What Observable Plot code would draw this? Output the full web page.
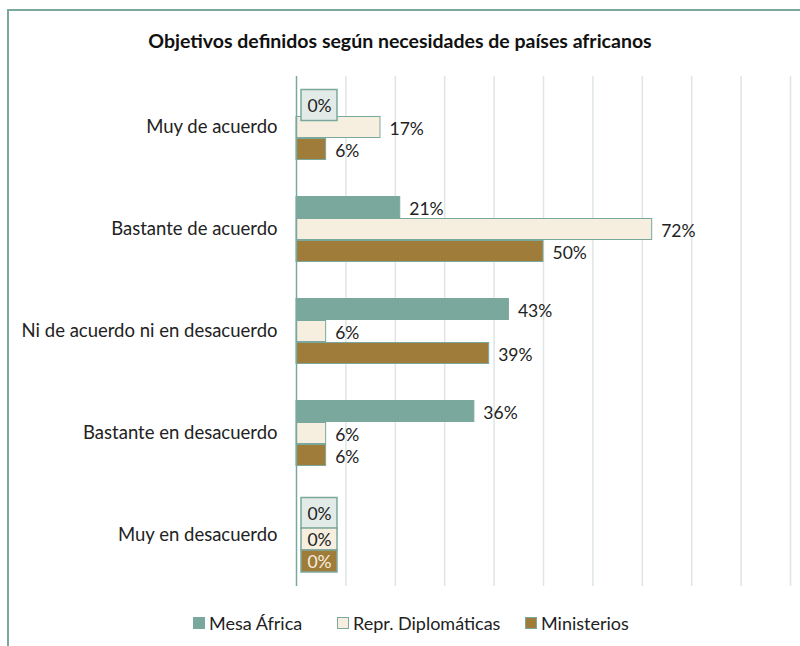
<!DOCTYPE html>
<html>
<head>
<meta charset="utf-8">
<script src="https://cdn.jsdelivr.net/npm/d3@7"></script>
<script src="https://cdn.jsdelivr.net/npm/@observablehq/plot@0.6"></script>
<style>
  html, body { margin: 0; padding: 0; background: #fff; overflow: hidden; }
  body { width: 800px; height: 646px; position: relative; font-family: Lato, "Open Sans", sans-serif; color: #222; }
  #frame { position: absolute; left: 7px; top: 9px; width: 1000px; height: 1000px; border: 2px solid #7ba89c; box-sizing: border-box; }
  #title { position: absolute; left: 0; top: 29px; width: 800px; text-align: center; font-weight: bold; font-size: 19.5px; line-height: 24px; color: #111; }
  #chart { position: absolute; left: 0; top: 60px; }
  #legend { position: absolute; left: 0; top: 612px; width: 800px; height: 22px; font-size: 18px; line-height: 22px; color: #222; }
  .item { position: absolute; top: 0; display: flex; align-items: center; white-space: nowrap; }
  .sw { width: 10px; height: 10px; border: 1px solid #7ba89c; margin-right: 4px; }
</style>
</head>
<body>
<div id="frame"></div>
<div id="title">Objetivos definidos según necesidades de países africanos</div>
<div id="chart"></div>
<div id="legend"></div>
<script>
const categories = ["Muy de acuerdo", "Bastante de acuerdo", "Ni de acuerdo ni en desacuerdo", "Bastante en desacuerdo", "Muy en desacuerdo"];
const series = ["Mesa África", "Repr. Diplomáticas", "Ministerios"];
const mesaAfrica = [0, 21, 43, 36, 0];
const reprDiplomaticas = [17, 72, 6, 6, 0];
const ministerios = [6, 50, 39, 6, 0];
const xTicks = [10, 20, 30, 40, 50, 60, 70, 80, 90, 100];
const colors = ["#7ba89c", "#f6efdf", "#a07c3a"];
const zeroBoxFill = ["#e3ebe8", "#f6efdf", "#a07c3a"];
const zeroTextColor = ["#222", "#222", "#f6efdf"];
const legendLeft = [193, 337, 525];

const seriesValues = [mesaAfrica, reprDiplomaticas, ministerios];
const data = [];
categories.forEach((c, i) => {
  series.forEach((s, j) => {
    data.push({category: c, series: s, value: seriesValues[j][i], si: j});
  });
});
const nonzero = data.filter(d => d.value > 0);
const zeroMarks = series.flatMap((s, j) => {
  const z = data.filter(d => d.value === 0 && d.si === j);
  const shift = j === 0 ? 0 : 4;
  const grow = j === 0 ? 4.5 : 0;
  return [
    Plot.barX(z, {
      fy: "category", y: "series", x1: 0, x2: "value",
      insetLeft: 5, insetRight: -41,
      insetTop: shift - grow, insetBottom: -shift - grow,
      fill: zeroBoxFill[j], stroke: "#7ba89c", strokeWidth: 1.5
    }),
    Plot.text(z, {
      fy: "category", y: "series", x: "value", text: d => d.value + "%",
      textAnchor: "middle", dx: 23, dy: shift + 1, fontSize: 17.5, fill: zeroTextColor[j]
    })
  ];
});

const chart = Plot.plot({
  width: 800,
  height: 540,
  marginLeft: 296,
  marginRight: 10,
  marginTop: 14,
  marginBottom: 13,
  x: {domain: [0, 100], axis: null},
  y: {domain: series, axis: null, paddingInner: 0, paddingOuter: 0.73},
  fy: {domain: categories, padding: 0, label: null},
  style: {fontFamily: "Lato, 'Open Sans', sans-serif"},
  marks: [
    Plot.ruleX(xTicks, {stroke: "#dde6e4", strokeWidth: 1.5, strokeOpacity: 1}),
    Plot.axisFy({anchor: "left", tickSize: 0, tickPadding: 19, fontSize: 18.5, fill: "#222", label: null}),
    Plot.barX(nonzero, {
      fy: "category", y: "series", x: "value",
      fill: d => colors[d.si], stroke: "#7ba89c", strokeWidth: 1,
      insetTop: 0.5, insetBottom: 0.5
    }),
    Plot.text(nonzero, {
      fy: "category", y: "series", x: "value", text: d => d.value + "%",
      textAnchor: "start", dx: 9, dy: 2, fontSize: 17.5, fill: "#222"
    }),
    Plot.ruleX([0], {stroke: "#7ba89c", strokeWidth: 1.5}),
    ...zeroMarks
  ]
});
document.getElementById("chart").appendChild(chart);

const legend = document.getElementById("legend");
series.forEach((s, j) => {
  const item = document.createElement("div");
  item.className = "item";
  item.style.left = legendLeft[j] + "px";
  const sw = document.createElement("div");
  sw.className = "sw";
  sw.style.background = colors[j];
  const label = document.createElement("span");
  label.textContent = s;
  item.appendChild(sw);
  item.appendChild(label);
  legend.appendChild(item);
});
</script>
</body>
</html>
